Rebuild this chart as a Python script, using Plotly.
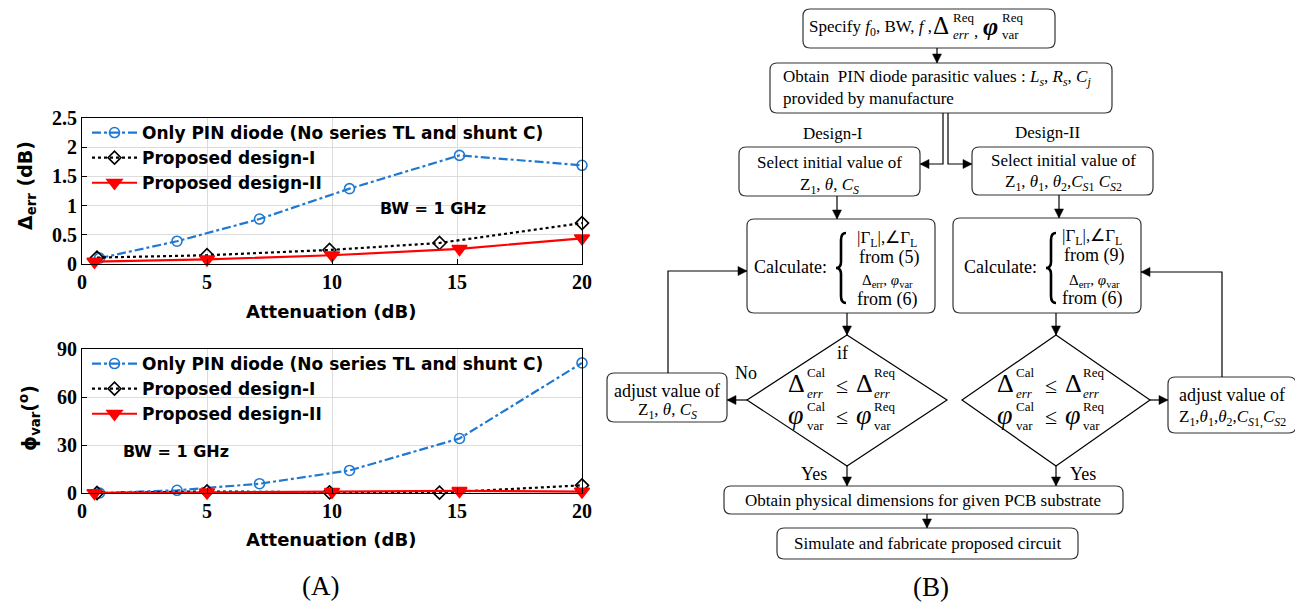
import plotly.graph_objects as go

# ---------------- data ----------------
att_pin = [0.7, 3.8, 7.1, 10.7, 15.1, 20.0]
att_d1 = [0.6, 5.0, 9.9, 14.3, 20.0]
att_d2 = [0.5, 5.0, 10.0, 15.1, 20.0]

derr_pin = [0.10, 0.39, 0.77, 1.29, 1.86, 1.69]
derr_d1 = [0.11, 0.15, 0.24, 0.36, 0.70]
derr_d2 = [0.04, 0.08, 0.15, 0.26, 0.44]

phi_pin = [0.0, 1.7, 5.8, 14.1, 34.1, 81.3]
phi_d1 = [0.0, 1.0, 0.4, 0.2, 4.8]
phi_d2 = [0.0, 0.4, 0.8, 1.3, 0.9]

names = ["Only PIN diode (No series TL and shunt C)", "Proposed design-I", "Proposed design-II"]
x_ticks = [0, 5, 10, 15, 20]
y1_ticks = [0, 0.5, 1, 1.5, 2, 2.5]
y1_labels = ["0", "0.5", "1", "1.5", "2", "2.5"]
y2_ticks = [0, 30, 60, 90]

# ---------------- helpers ----------------
# the page body has an 8px margin: the figure is drawn 8px in from the window corner
OFF = 8
W, H = 1303 - OFF, 606 - OFF
SERIF = "Liberation Serif, Times New Roman, serif"
SANS = "DejaVu Sans, Arial, sans-serif"


def X(x):
    return (x - OFF) / W


def Y(y):
    return 1 - (y - OFF) / H


BLUE = "#1f78d1"
RED = "#ff0000"

fig = go.Figure()
styles = [
    dict(color=BLUE, dash="dashdot", sym="circle-open", size=10),
    dict(color="black", dash="dot", sym="diamond-open", size=10),
    dict(color=RED, dash="solid", sym="triangle-down", size=13),
]
xs = [att_pin, att_d1, att_d2]
top = [derr_pin, derr_d1, derr_d2]
bot = [phi_pin, phi_d1, phi_d2]
for axes, vals, leg in [(("x", "y"), top, "legend"), (("x2", "y2"), bot, "legend2")]:
    for i in range(3):
        st = styles[i]
        mk = dict(symbol=st["sym"], size=st["size"], color=st["color"],
                  line=dict(color=st["color"], width=1.6))
        fig.add_trace(go.Scatter(x=xs[i], y=vals[i], name=names[i], mode="lines+markers",
                                 line=dict(color=st["color"], dash=st["dash"], width=2.2),
                                 marker=mk, xaxis=axes[0], yaxis=axes[1], legend=leg,
                                 cliponaxis=False))

tickfont = dict(family=SERIF, size=20, color="black", weight="bold")
axcommon = dict(showline=True, mirror=True, linecolor="black", linewidth=1,
                showgrid=True, gridcolor="#dcdcdc", gridwidth=1, zeroline=False,
                ticks="inside", ticklen=5, tickcolor="black", tickfont=tickfont,
                automargin=False)

legfont = dict(family=SANS, size=17, color="black", weight="bold")

fig.update_layout(
    width=W, height=H, margin=dict(l=0, r=0, t=0, b=0, pad=0, autoexpand=False),
    paper_bgcolor="white", plot_bgcolor="white",
    xaxis=dict(domain=[X(82), X(582)], range=[0, 20], tickvals=x_ticks, anchor="y", **axcommon),
    yaxis=dict(domain=[Y(264), Y(118)], range=[0, 2.5], tickvals=y1_ticks, ticktext=y1_labels,
               anchor="x", **axcommon),
    xaxis2=dict(domain=[X(82), X(582)], range=[0, 20], tickvals=x_ticks, anchor="y2", **axcommon),
    yaxis2=dict(domain=[Y(493), Y(349)], range=[0, 90], tickvals=y2_ticks, anchor="x2", **axcommon),
    legend=dict(x=X(87), y=Y(115), xanchor="left", yanchor="top", bgcolor="rgba(0,0,0,0)",
                font=legfont, itemwidth=45, tracegroupgap=0),
    legend2=dict(x=X(87), y=Y(346), xanchor="left", yanchor="top", bgcolor="rgba(0,0,0,0)",
                 font=legfont, itemwidth=45, tracegroupgap=0),
    showlegend=True,
)

ann = []


def T(x, y, s, size=17, xa="center", fam=SERIF, italic=False, bold=False, angle=0):
    ann.append(dict(x=X(x), y=Y(y), xref="paper", yref="paper", text=s, showarrow=False,
                    xanchor=xa, yanchor="middle", textangle=angle, borderpad=0,
                    font=dict(family=fam, size=size, color="black",
                              weight="bold" if bold else "normal",
                              style="italic" if italic else "normal")))


shapes = []


def poly(pts, w=1.2, close=False, fill=None):
    p = "M " + " L ".join(f"{X(a):.6f},{Y(b):.6f}" for a, b in pts)
    if close:
        p += " Z"
    shapes.append(dict(type="path", path=p, xref="paper", yref="paper",
                       line=dict(color="black", width=w),
                       fillcolor=fill if fill else "rgba(0,0,0,0)"))


def head(x, y, d, L=9, hw=4.5):
    if d == "down":
        pts = [(x, y), (x - hw, y - L), (x + hw, y - L)]
    elif d == "up":
        pts = [(x, y), (x - hw, y + L), (x + hw, y + L)]
    elif d == "left":
        pts = [(x, y), (x + L, y - hw), (x + L, y + hw)]
    else:
        pts = [(x, y), (x - L, y - hw), (x - L, y + hw)]
    poly(pts, w=0.5, close=True, fill="black")


def arrow(pts, d):
    poly(pts)
    head(pts[-1][0], pts[-1][1], d)


def rrect(x0, y0, x1, y1, r=7):
    def P(a, b):
        return f"{X(a):.6f},{Y(b):.6f}"
    p = (f"M {P(x0 + r, y0)} L {P(x1 - r, y0)} Q {P(x1, y0)} {P(x1, y0 + r)} "
         f"L {P(x1, y1 - r)} Q {P(x1, y1)} {P(x1 - r, y1)} L {P(x0 + r, y1)} "
         f"Q {P(x0, y1)} {P(x0, y1 - r)} L {P(x0, y0 + r)} Q {P(x0, y0)} {P(x0 + r, y0)} Z")
    shapes.append(dict(type="path", path=p, xref="paper", yref="paper",
                       line=dict(color="#333333", width=1.2), fillcolor="rgba(0,0,0,0)"))


def brace(x, y0, y1, w=5):
    m = (y0 + y1) / 2

    def P(a, b):
        return f"{X(a):.6f},{Y(b):.6f}"
    p = (f"M {P(x + w, y0)} Q {P(x, y0)} {P(x, y0 + 7)} L {P(x, m - 6)} Q {P(x, m)} {P(x - w, m)} "
         f"Q {P(x, m)} {P(x, m + 6)} L {P(x, y1 - 7)} Q {P(x, y1)} {P(x + w, y1)}")
    shapes.append(dict(type="path", path=p, xref="paper", yref="paper",
                       line=dict(color="black", width=2.6)))


# ---------------- chart annotations ----------------
T(26, 186, "Δ<sub>err</sub> (dB)", size=19, fam=SANS, bold=True, angle=-90)
T(29, 418, "ϕ<sub>var</sub>(<sup>o</sup>)", size=19, fam=SANS, bold=True, angle=-90)
T(331, 311, "Attenuation (dB)", size=18, fam=SANS, bold=True)
T(331, 539, "Attenuation (dB)", size=18, fam=SANS, bold=True)
T(433, 208, "BW = 1 GHz", size=16, fam=SANS, bold=True)
T(176, 452, "BW = 1 GHz", size=16, fam=SANS, bold=True)
T(320, 586, "(A)", size=27)
T(931, 587, "(B)", size=27)

# ---------------- flowchart ----------------
rrect(803, 9, 1055, 48)
T(808, 28, "Specify <i>f</i><sub>0</sub>, BW, <i>f</i> ,", xa="left")
T(941, 26, "Δ", size=25)
T(952, 18, "Req", size=13, xa="left")
T(952, 35, "err", size=13, xa="left", italic=True)
T(976, 32, ",", size=17)
T(990, 27, "φ", size=26, italic=True, bold=True)
T(1001, 18, "Req", size=13, xa="left")
T(1001, 35, "var", size=13, xa="left")

arrow([(937, 48), (937, 63)], "down")

rrect(770, 63, 1112, 113)
T(782, 78, "Obtain  PIN diode parasitic values : <i>L<sub>s</sub></i>, <i>R<sub>s</sub></i>, <i>C<sub>j</sub></i>", xa="left")
T(782, 98, "provided by manufacture", xa="left")

arrow([(943, 113), (943, 164), (920, 164)], "left")
arrow([(948, 113), (948, 164), (972, 164)], "right")
T(833, 134, "Design-I")
T(1047, 133, "Design-II")

rrect(739, 147, 920, 196)
T(829, 163, "Select initial value of")
T(829, 186, "Z<sub>1</sub>, <i>θ</i>, <i>C<sub>S</sub></i>")

rrect(972, 147, 1153, 195)
T(1063, 160, "Select initial value of")
T(1063, 183, "Z<sub>1</sub>, <i>θ</i><sub>1</sub>, <i>θ</i><sub>2</sub>,<i>C</i><sub><i>S</i>1</sub> <i>C</i><sub><i>S</i>2</sub>")

arrow([(837, 196), (837, 219)], "down")
arrow([(1059, 195), (1059, 218)], "down")

rrect(747, 219, 935, 313)
T(790, 267, "Calculate:", size=18)
brace(841, 233, 303)
T(887, 239, "|Γ<sub>L</sub>|,∠Γ<sub>L</sub>")
T(889, 258, "from (5)", size=18)
T(887, 281, "Δ<sub>err</sub>, <i>φ</i><sub>var</sub>", size=15)
T(887, 299, "from (6)", size=18)

rrect(953, 218, 1141, 313)
T(1000, 267, "Calculate:", size=18)
brace(1051, 233, 303)
T(1092, 237, "|Γ<sub>L</sub>|,∠Γ<sub>L</sub>")
T(1094, 256, "from (9)", size=18)
T(1094, 281, "Δ<sub>err</sub>, <i>φ</i><sub>var</sub>", size=15)
T(1092, 298, "from (6)", size=18)

arrow([(847, 313), (847, 335)], "down")
arrow([(1056, 313), (1056, 335)], "down")

# diamonds
poly([(847, 335), (947, 400), (847, 466), (747, 400)], close=True)
poly([(1056, 335), (1150, 400), (1056, 466), (962, 400)], close=True)
T(842, 353, "if", size=18)


def cond(cx):
    T(cx - 51, 383, "Δ", size=26)
    T(cx - 41, 372, "Cal", size=13, xa="left")
    T(cx - 41, 393, "err", size=13, xa="left", italic=True)
    T(cx - 5, 385, "≤", size=22)
    T(cx + 17, 383, "Δ", size=26)
    T(cx + 26, 372, "Req", size=13, xa="left")
    T(cx + 26, 393, "err", size=13, xa="left", italic=True)
    T(cx - 51, 414, "φ", size=28, italic=True)
    T(cx - 41, 406, "Cal", size=13, xa="left")
    T(cx - 41, 425, "var", size=13, xa="left")
    T(cx - 5, 416, "≤", size=22)
    T(cx + 17, 414, "φ", size=28, italic=True)
    T(cx + 26, 406, "Req", size=13, xa="left")
    T(cx + 26, 425, "var", size=13, xa="left")


cond(847)
cond(1056)

arrow([(747, 400), (727, 400)], "left")
arrow([(1150, 400), (1168, 400)], "right")
T(746, 373, "No", size=18)

rrect(607, 373, 727, 422)
T(667, 391, "adjust value of", size=18)
T(667, 411, "Z<sub>1</sub>, <i>θ</i>, <i>C<sub>S</sub></i>")

rrect(1168, 377, 1296, 433)
T(1232, 395, "adjust value of", size=18)
T(1232, 418, "Z<sub>1</sub>,<i>θ</i><sub>1</sub>,<i>θ</i><sub>2</sub>,<i>C</i><sub><i>S</i>1,</sub><i>C</i><sub><i>S</i>2</sub>")

arrow([(668, 373), (668, 271), (747, 271)], "right")
arrow([(1222, 377), (1222, 272), (1141, 272)], "left")

arrow([(847, 466), (847, 486)], "down")
arrow([(1056, 466), (1056, 486)], "down")
T(814, 474, "Yes", size=18)
T(1083, 474, "Yes", size=18)

rrect(724, 486, 1123, 514)
T(923, 500, "Obtain physical dimensions for given PCB substrate")
arrow([(927, 514), (927, 528)], "down")
rrect(777, 528, 1078, 559)
T(927, 543, "Simulate and fabricate proposed circuit")

fig.update_layout(annotations=ann, shapes=shapes)
fig.write_html("out.html")
